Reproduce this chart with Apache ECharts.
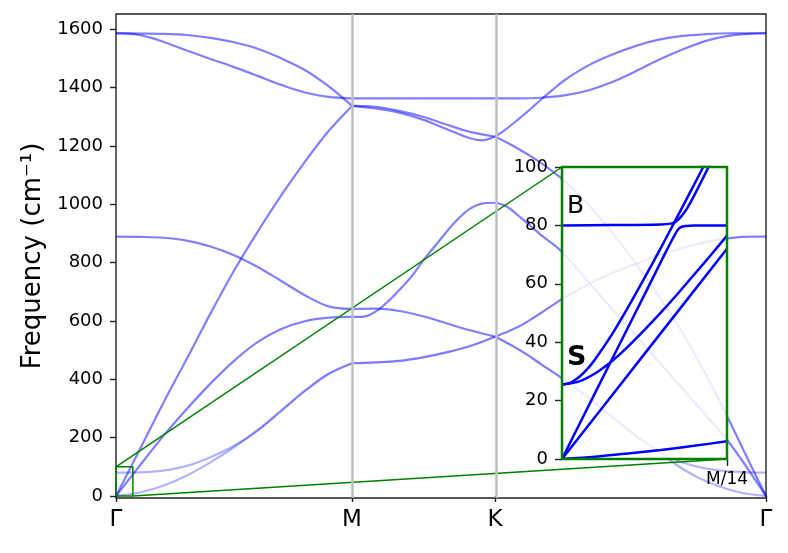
<!DOCTYPE html>
<html><head><meta charset="utf-8">
<script src="https://cdn.jsdelivr.net/npm/echarts@6/dist/echarts.min.js"></script>
<style>html,body{margin:0;padding:0;background:#fff}#c{width:788px;height:553px}</style>
</head><body><div id="c"></div>
<script>
// ---- high-symmetry path ----
const KPATH_LABELS = ['Γ', 'M', 'K', 'Γ'];
const KPATH_POS = [0, 1, 1.606, 2.754];
const Y_TICKS = [0, 200, 400, 600, 800, 1000, 1200, 1400, 1600];
const INSET_Y_TICKS = [0, 20, 40, 60, 80, 100];
const INSET_X_TICKS = [1];
const INSET_X_LABEL = 'M/14';

// ---- main dispersion bands [k, frequency cm^-1] ----
const BAND_HI1 = [[0,1586],[0.1,1585],[0.2,1584],[0.3,1580],[0.4,1570],[0.5,1555],[0.6,1533],[0.7,1500],[0.8,1460],[0.9,1405],[0.95,1372],[1,1337],
  [1.1,1328],[1.2,1314],[1.3,1290],[1.4,1258],[1.5,1226],[1.55,1219],[1.606,1232],
  [1.65,1256],[1.7,1288],[1.75,1322],[1.8,1358],[1.85,1392],[1.9,1425],[2.0,1475],[2.1,1512],[2.2,1542],[2.3,1564],[2.4,1577],[2.5,1583],[2.6,1586],[2.754,1586]];
const BAND_HI2 = [[0,1586],[0.05,1585],[0.1,1580],[0.15,1570],[0.2,1557],[0.3,1527],[0.4,1498],[0.5,1470],[0.6,1440],[0.7,1409],[0.8,1383],[0.9,1368],[1,1363],
  [1.3,1363],[1.606,1363],
  [1.7,1363],[1.8,1365],[1.9,1373],[2.0,1390],[2.1,1418],[2.2,1455],[2.3,1495],[2.4,1530],[2.5,1560],[2.6,1578],[2.7,1585],[2.754,1586]];
const BAND_LA = [[0,0],[0.1,158],[0.2,318],[0.3,470],[0.4,625],[0.5,772],[0.6,905],[0.7,1030],[0.8,1145],[0.9,1250],[1,1337],
  [1.1,1334],[1.2,1320],[1.3,1300],[1.4,1273],[1.5,1248],[1.606,1232],
  [1.7,1192],[1.8,1142],[1.9,1080],[2.0,1000],[2.1,905],[2.2,800],[2.3,685],[2.4,560],[2.5,415],[2.6,255],[2.7,88],[2.754,0]];
const BAND_TA = [[0,0],[0.1,103],[0.2,205],[0.3,298],[0.4,385],[0.5,463],[0.6,527],[0.7,572],[0.8,599],[0.9,611],[1,614],
  [1.05,615],[1.1,632],[1.15,665],[1.2,706],[1.25,750],[1.3,806],[1.35,855],[1.4,905],[1.45,950],[1.5,985],[1.55,1002],[1.606,1005],
  [1.655,992],[1.726,946],[1.8,895],[1.881,843],[2.0,735],[2.1,643],[2.2,552],[2.3,460],[2.4,368],[2.5,276],[2.589,192],[2.65,125],[2.7,65],[2.754,0]];
const BAND_ZO = [[0,889],[0.1,888],[0.2,885],[0.3,875],[0.4,855],[0.5,825],[0.6,785],[0.7,737],[0.8,688],[0.9,650],[1,641],
  [1.1,642],[1.2,634],[1.3,616],[1.4,592],[1.5,568],[1.606,546],
  [1.65,560],[1.7,578],[1.75,601],[1.8,627],[1.85,654],[1.9,680],[2.0,725],[2.1,763],[2.2,795],[2.3,825],[2.4,850],[2.5,870],[2.6,884],[2.7,889],[2.754,889]];
const BAND_ZA = [[0,0],[0.1,12],[0.2,35],[0.3,70],[0.4,115],[0.5,167],[0.6,225],[0.7,292],[0.8,360],[0.9,418],[1,455],
  [1.1,458],[1.2,463],[1.3,475],[1.4,492],[1.5,514],[1.606,546],
  [1.65,528],[1.7,505],[1.75,480],[1.8,452],[1.9,398],[2.0,338],[2.1,272],[2.2,208],[2.254,178],[2.354,118],[2.454,68],[2.554,33],[2.654,10],[2.754,0]];
const BAND_ZB = [[0,80],[0.1,81],[0.2,87],[0.3,103],[0.4,133],[0.5,172],[0.6,225],[0.7,292],[0.8,360],[0.9,418],[1,455],
  [1.1,458],[1.2,463],[1.3,475],[1.4,492],[1.5,514],[1.606,546],
  [1.65,528],[1.7,505],[1.75,480],[1.8,452],[1.9,398],[2.0,338],[2.1,272],[2.2,208],[2.254,178],[2.354,130],[2.454,102],[2.554,88],[2.654,82],[2.754,80]];

// ---- inset bands [k in units of M/14, frequency] ----
const INSET_ZA = [[0,0],[0.2,0.8],[0.4,1.9],[0.6,3.1],[0.8,4.5],[1,6.1]];
const INSET_TA = [[0,0],[0.5,36],[1,72]];
const INSET_S_LOW = [[0,25.5],[0.1,26.5],[0.2,29.3],[0.3,33.4],[0.4,38.5],[0.5,44.2],[0.6,50.2],[0.7,56.5],[0.8,63.1],[0.9,69.7],[1,76.5]];
const INSET_S_UP = [[0,25.5],[0.05,26.1],[0.1,27.9],[0.15,30.6],[0.2,34.1],[0.3,42.4],[0.4,51.9],[0.5,62.0],[0.6,72.4],[0.7,83.1],[0.8,93.9],[0.9,104.8]];
const INSET_LA_B = [[0,0],[0.1,11.3],[0.3,33.8],[0.5,56.3],[0.6,67.6],[0.65,73.2],[0.68,76.4],[0.7,78.3],[0.72,79.4],[0.75,79.8],[0.8,80],[1,80]];
const INSET_B_LA = [[0,80],[0.3,80.1],[0.6,80.3],[0.66,80.6],[0.69,81.3],[0.71,82.3],[0.73,83.6],[0.76,86.0],[0.8,90.1],[0.9,101.3]];
const INSET_TEXT = [{t:'B', u:0.03, f:86.5, bold:false}, {t:'S', u:0.03, f:34.5, bold:true}];

const FONT = 'DejaVu Sans';
const chart = echarts.init(document.getElementById('c'), null, {renderer:'canvas'});

function segments(band) {
  const out = [];
  for (let i = 0; i < KPATH_POS.length - 1; i++) {
    const a = KPATH_POS[i], b = KPATH_POS[i + 1];
    out.push(band.filter(p => p[0] >= a - 1e-9 && p[0] <= b + 1e-9));
  }
  return out;
}

const mainBands = [
  {d: BAND_HI1, a: 0.5}, {d: BAND_HI2, a: 0.5}, {d: BAND_LA, a: 0.5}, {d: BAND_TA, a: 0.5},
  {d: BAND_ZO, a: 0.5}, {d: BAND_ZA, a: 0.3}, {d: BAND_ZB, a: 0.3}
];
const series = [];
series.push({
  type: 'line', xAxisIndex: 0, yAxisIndex: 0, data: [], z: 1, silent: true,
  markLine: {
    silent: true, symbol: ['none', 'none'], label: {show: false},
    lineStyle: {color: '#bfbfbf', width: 2.5, type: 'solid'},
    data: KPATH_POS.slice(1, -1).map(v => ({xAxis: v}))
  }
});
mainBands.forEach(b => {
  segments(b.d).forEach(seg => {
    series.push({
      type: 'line', xAxisIndex: 0, yAxisIndex: 0, data: seg, smooth: 0.35,
      showSymbol: false, symbol: 'none', silent: true, z: 2,
      lineStyle: {color: 'rgba(0,0,255,' + b.a + ')', width: 2.2}
    });
  });
});
const kz = KPATH_POS[1] / 14;
series.push({
  type: 'line', xAxisIndex: 0, yAxisIndex: 0, silent: true, z: 4, showSymbol: false, symbol: 'none',
  data: [[0, 0], [0, 100], [kz, 100], [kz, 0], [0, 0]],
  lineStyle: {color: '#008000', width: 1.5}
});
[INSET_ZA, INSET_TA, INSET_S_LOW, INSET_S_UP, INSET_LA_B, INSET_B_LA].forEach(d => {
  series.push({
    type: 'line', xAxisIndex: 1, yAxisIndex: 1, data: d, smooth: 0.3, showSymbol: false, symbol: 'none',
    silent: true, z: 6, lineStyle: {color: '#0000ff', width: 2.5}
  });
});

const option = {
  animation: false,
  backgroundColor: '#fff',
  grid: [
    {left: 116, right: 22, top: 14, bottom: 55, show: true, borderColor: '#222', borderWidth: 1.4, backgroundColor: 'transparent'},
    {left: 562, top: 167, width: 165, height: 292, show: false}
  ],
  xAxis: [
    {type: 'value', gridIndex: 0, min: KPATH_POS[0], max: KPATH_POS[KPATH_POS.length - 1],
     axisLine: {show: false}, splitLine: {show: false},
     axisTick: {show: true, inside: false, length: 6, customValues: KPATH_POS, lineStyle: {color: '#222', width: 1.4}},
     axisLabel: {show: true, customValues: KPATH_POS, margin: 11, color: '#000', fontSize: 23, fontFamily: FONT,
       formatter: v => { const i = KPATH_POS.findIndex(p => Math.abs(p - v) < 1e-6); return i >= 0 ? KPATH_LABELS[i] : ''; }}},
    {type: 'value', gridIndex: 1, min: 0, max: 1, z: 7,
     axisLine: {show: false}, splitLine: {show: false},
     axisTick: {show: true, inside: false, length: 7, customValues: INSET_X_TICKS, lineStyle: {color: '#222', width: 1.4}},
     axisLabel: {show: true, customValues: INSET_X_TICKS, margin: 12, color: '#000', fontSize: 17, fontFamily: FONT, formatter: () => INSET_X_LABEL}}
  ],
  yAxis: [
    {type: 'value', gridIndex: 0, min: -7, max: 1652,
     name: 'Frequency (cm⁻¹)', nameLocation: 'middle', nameGap: 70, nameRotate: 90,
     nameTextStyle: {fontSize: 26, color: '#000', fontFamily: FONT},
     axisLine: {show: false}, splitLine: {show: false},
     axisTick: {show: true, inside: false, length: 6, customValues: Y_TICKS, lineStyle: {color: '#222', width: 1.4}},
     axisLabel: {show: true, customValues: Y_TICKS, margin: 13, color: '#000', fontSize: 18, fontFamily: FONT, formatter: v => String(v)}},
    {type: 'value', gridIndex: 1, min: 0, max: 100, interval: 20, z: 7,
     axisLine: {show: false}, splitLine: {show: false},
     axisTick: {show: true, inside: false, length: 7, customValues: INSET_Y_TICKS, lineStyle: {color: '#222', width: 1.4}},
     axisLabel: {show: true, customValues: INSET_Y_TICKS, margin: 14, color: '#000', fontSize: 18, fontFamily: FONT, formatter: v => String(v)}}
  ],
  series: series
};
chart.setOption(option);

const px = (g, v) => chart.convertToPixel({gridIndex: g}, v);
const iTL = px(1, [0, 100]), iBR = px(1, [1, 0]);
const mTL = px(0, [0, 100]), mBR = px(0, [kz, 0]);
const graphics = [
  {type: 'rect', z: 5, silent: true, shape: {x: iTL[0], y: iTL[1], width: iBR[0] - iTL[0], height: iBR[1] - iTL[1]},
   style: {fill: 'rgba(255,255,255,0.85)'}},
  {type: 'rect', z: 8, silent: true, shape: {x: iTL[0], y: iTL[1], width: iBR[0] - iTL[0], height: iBR[1] - iTL[1]},
   style: {fill: null, stroke: '#008000', lineWidth: 2.5}},
  {type: 'line', z: 4, silent: true, shape: {x1: mTL[0], y1: mTL[1], x2: iTL[0], y2: iTL[1]}, style: {stroke: '#008000', lineWidth: 1.5}},
  {type: 'line', z: 4, silent: true, shape: {x1: mBR[0], y1: mBR[1], x2: iBR[0], y2: iBR[1]}, style: {stroke: '#008000', lineWidth: 1.5}}
];
INSET_TEXT.forEach(t => {
  const p = px(1, [t.u, t.f]);
  graphics.push({type: 'text', z: 9, silent: true, style: {
    text: t.t, x: p[0], y: p[1], fill: '#000', textAlign: 'left', textVerticalAlign: 'middle',
    font: (t.bold ? 'bold 27px ' : '25px ') + FONT
  }});
});
chart.setOption({graphic: graphics});
</script></body></html>
